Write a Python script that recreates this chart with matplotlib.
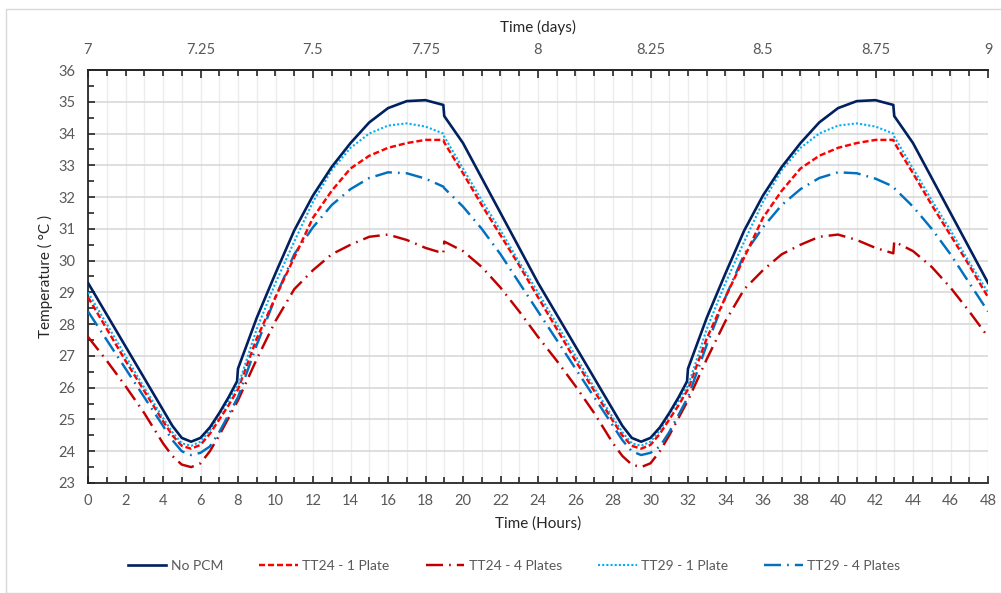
import matplotlib
matplotlib.use("Agg")
import matplotlib.pyplot as plt
from matplotlib.patches import Rectangle
from matplotlib.ticker import MultipleLocator, FixedLocator

plt.rcParams['font.family'] = ['Lato', 'DejaVu Sans']

# time (hours)
hours = [0, 1, 2, 3, 4, 4.5, 5, 5.5, 6, 6.5, 7, 7.5, 7.95, 8, 9, 10, 11, 12, 13, 14, 15, 16, 17, 18, 18.95, 19,
         20, 21, 22, 23, 24, 25, 26, 27, 28, 28.5, 29, 29.5, 30, 30.5, 31, 31.5, 31.95, 32, 33, 34, 35, 36, 37,
         38, 39, 40, 41, 42, 42.95, 43, 44, 45, 46, 47, 48]

no_pcm = [29.3, 28.3, 27.3, 26.3, 25.3, 24.8, 24.42, 24.3, 24.42, 24.75, 25.2, 25.7, 26.2, 26.6, 28.2, 29.6,
          30.95, 32.05, 32.95, 33.7, 34.35, 34.8, 35.02, 35.05, 34.9, 34.55, 33.7, 32.6, 31.5, 30.4, 29.3,
          28.3, 27.3, 26.3, 25.3, 24.8, 24.42, 24.3, 24.42, 24.75, 25.2, 25.7, 26.2, 26.6, 28.2, 29.6,
          30.95, 32.05, 32.95, 33.7, 34.35, 34.8, 35.02, 35.05, 34.9, 34.55, 33.7, 32.6, 31.5, 30.4, 29.3]

tt24_1 = [28.85, 27.85, 26.85, 25.9, 24.95, 24.5, 24.17, 24.08, 24.2, 24.55, 25.0, 25.45, 25.9, 25.95, 27.55,
          28.85, 30.1, 31.35, 32.2, 32.9, 33.3, 33.55, 33.7, 33.8, 33.8, 33.72, 32.75, 31.75, 30.8, 29.85,
          28.85, 27.85, 26.85, 25.9, 24.95, 24.5, 24.17, 24.08, 24.2, 24.55, 25.0, 25.45, 25.9, 25.95, 27.55,
          28.85, 30.1, 31.35, 32.2, 32.9, 33.3, 33.55, 33.7, 33.8, 33.8, 33.72, 32.75, 31.75, 30.8, 29.85, 28.85]

tt24_4 = [27.6, 26.85, 26.05, 25.2, 24.25, 23.85, 23.58, 23.5, 23.62, 24.0, 24.5, 25.05, 25.55, 25.6, 26.9,
          28.1, 29.1, 29.7, 30.2, 30.5, 30.75, 30.82, 30.65, 30.4, 30.23, 30.6, 30.3, 29.8, 29.15, 28.4,
          27.6, 26.85, 26.05, 25.2, 24.25, 23.85, 23.58, 23.5, 23.62, 24.0, 24.5, 25.05, 25.55, 25.6, 26.9,
          28.1, 29.1, 29.7, 30.2, 30.5, 30.75, 30.82, 30.65, 30.4, 30.23, 30.6, 30.3, 29.8, 29.15, 28.4, 27.6]

tt29_1 = [29.0, 28.0, 27.0, 26.0, 25.05, 24.6, 24.25, 24.17, 24.3, 24.65, 25.15, 25.6, 26.02, 26.05, 27.85,
          29.3, 30.6, 31.85, 32.85, 33.55, 34.0, 34.25, 34.32, 34.22, 34.0, 33.9, 32.9, 31.9, 30.95, 29.95,
          29.0, 28.0, 27.0, 26.0, 25.05, 24.6, 24.25, 24.17, 24.3, 24.65, 25.15, 25.6, 26.02, 26.05, 27.85,
          29.3, 30.6, 31.85, 32.85, 33.55, 34.0, 34.25, 34.32, 34.22, 34.0, 33.9, 32.9, 31.9, 30.95, 29.95, 29.0]

tt29_4 = [28.4, 27.5, 26.6, 25.7, 24.8, 24.35, 24.0, 23.88, 23.95, 24.15, 24.6, 25.15, 25.65, 25.7, 27.35,
          28.85, 30.2, 31.05, 31.75, 32.25, 32.6, 32.78, 32.75, 32.58, 32.33, 32.28, 31.7, 31.0, 30.2, 29.3,
          28.4, 27.5, 26.6, 25.7, 24.8, 24.35, 24.0, 23.88, 23.95, 24.15, 24.6, 25.15, 25.65, 25.7, 27.35,
          28.85, 30.2, 31.05, 31.75, 32.25, 32.6, 32.78, 32.75, 32.58, 32.33, 32.28, 31.7, 31.0, 30.2, 29.3, 28.4]

day_ticks = [7, 7.25, 7.5, 7.75, 8, 8.25, 8.5, 8.75, 9]
day_labels = ["7", "7.25", "7.5", "7.75", "8", "8.25", "8.5", "8.75", "9"]

text_grey = '#595959'

fig = plt.figure(figsize=(10.01, 5.93), dpi=100)
fig.patches.append(Rectangle((6 / 1001, 0), 1.2, 1 - 9 / 593, transform=fig.transFigure,
                             fill=False, edgecolor='#d9d9d9', linewidth=1, clip_on=False))
ax = fig.add_axes([88 / 1001, 1 - 483 / 593, 900 / 1001, 413 / 593])

ax.plot(hours, no_pcm, color='#002060', lw=1.9, label='No PCM', zorder=6)
ax.plot(hours, tt24_1, color='#ff0000', lw=1.75, dashes=(2.5, 1.2), label='TT24 - 1 Plate', zorder=5)
ax.plot(hours, tt24_4, color='#c00000', lw=1.75, dashes=(7, 2.5, 0.7, 2.5), label='TT24 - 4 Plates', zorder=4)
ax.plot(hours, tt29_1, color='#00b0f0', lw=1.5, dashes=(1, 1), label='TT29 - 1 Plate', zorder=5)
ax.plot(hours, tt29_4, color='#0070c0', lw=1.75, dashes=(7, 2.5, 0.7, 2.5), label='TT29 - 4 Plates', zorder=4)

ax.set_xlim(0, 48)
ax.set_ylim(23, 36)
ax.xaxis.set_major_locator(MultipleLocator(2))
ax.xaxis.set_minor_locator(MultipleLocator(1))
ax.yaxis.set_major_locator(MultipleLocator(1))
ax.yaxis.set_minor_locator(MultipleLocator(0.5))
ax.grid(which='major', axis='y', color='#d9d9d9', lw=1.2)
ax.grid(which='both', axis='x', color='#ececec', lw=1)
ax.set_axisbelow(True)

for side in ['left', 'bottom', 'top']:
    ax.spines[side].set_color('#262626')
    ax.spines[side].set_linewidth(1.3)
ax.spines['right'].set_visible(False)

ax.tick_params(which='both', direction='in', colors='#262626', labelcolor=text_grey, labelsize=10.5)
ax.tick_params(which='major', length=5, width=1.2, pad=8)
ax.tick_params(which='minor', length=4, width=1.2)
ax.tick_params(axis='y', which='major', pad=9)

ax.set_xlabel('Time (Hours)', fontsize=11, color='#262626', labelpad=6)
ax.set_ylabel('Temperature ( °C )', fontsize=11, color='#262626', labelpad=4)

ax2 = ax.twiny()
ax2.set_xlim(7, 9)
ax2.xaxis.set_major_locator(FixedLocator(day_ticks))
ax2.set_xticklabels(day_labels)
ax2.xaxis.set_minor_locator(MultipleLocator(1 / 24))
ax2.tick_params(which='both', direction='in', colors='#262626', labelcolor=text_grey, labelsize=10.5)
ax2.tick_params(which='major', length=6, width=1.2, pad=9)
ax2.tick_params(which='minor', length=4, width=1.2)
for side in ax2.spines:
    ax2.spines[side].set_visible(False)
ax2.spines['top'].set_visible(True)
ax2.spines['top'].set_color('#262626')
ax2.spines['top'].set_linewidth(1.3)
ax2.set_xlabel('Time (days)', fontsize=11, color='#262626', labelpad=8)

leg = ax.legend(loc='center', bbox_to_anchor=(514 / 1001, 1 - 566 / 593), bbox_transform=fig.transFigure,
                ncol=5, frameon=False, fontsize=10, handlelength=2.8, handletextpad=0.3,
                columnspacing=2.6)
for t in leg.get_texts():
    t.set_color(text_grey)

fig.savefig('out.png', dpi=100)
